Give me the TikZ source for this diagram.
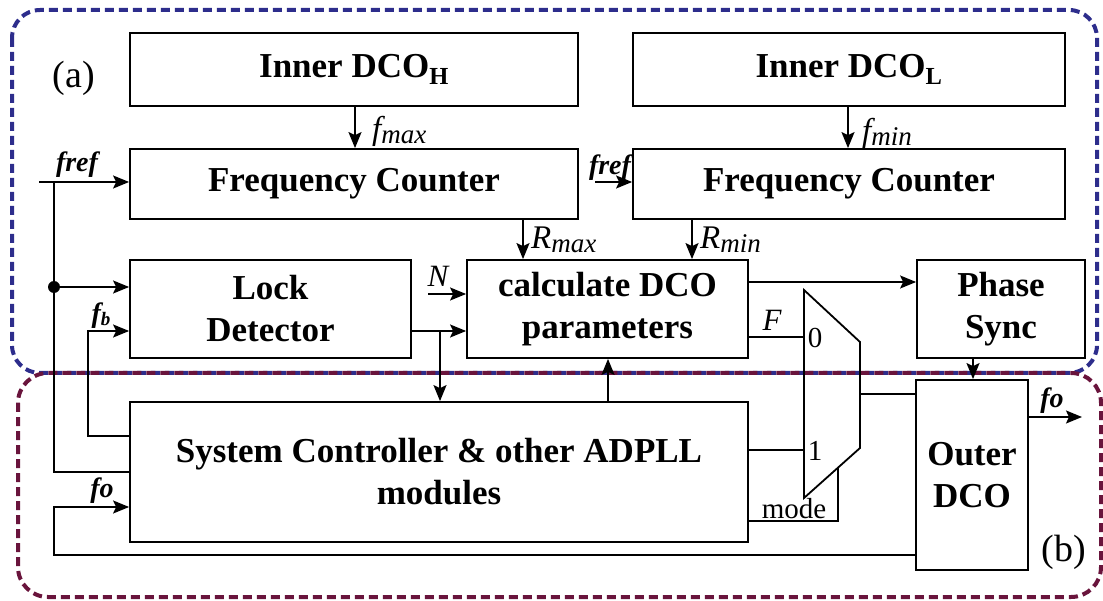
\documentclass[tikz,border=0pt]{standalone}
\usepackage{fontspec}
\setmainfont{Liberation Serif}
\usetikzlibrary{arrows.meta,calc}
\definecolor{bluedash}{RGB}{45,45,140}
\definecolor{reddash}{RGB}{105,20,60}
\begin{document}
\begin{tikzpicture}[x=1pt,y=-1pt,
  box/.style={draw, line width=1.8pt, inner sep=0pt, align=center,
    font=\bfseries\fontsize{35}{42}\selectfont},
  wire/.style={line width=1.6pt},
  arr/.style={wire, -{Stealth[length=16pt,width=13pt,inset=3pt]}},
  lab/.style={inner sep=0pt, font=\fontsize{33}{34}\selectfont},
  slab/.style={inner sep=0pt, font=\bfseries\itshape\fontsize{28}{28}\selectfont},
  mlab/.style={inner sep=0pt, font=\fontsize{29}{30}\selectfont},
  groupa/.style={draw=bluedash, line width=4pt, dash pattern=on 9pt off 5pt, rounded corners=28pt},
  groupb/.style={draw=reddash, line width=4pt, dash pattern=on 9pt off 5pt, rounded corners=30pt}]
\useasboundingbox (0,0) rectangle (1103,601);

% group frames
\draw[groupa] (12,10) rectangle (1097,373);
\draw[groupb] (18,373) rectangle (1101,597);
\node[lab, font=\fontsize{38}{40}\selectfont] (la) at (74,78) {(a)};
\node[lab, font=\fontsize{38}{40}\selectfont] (lb) at (1064,552) {(b)};

% blocks
\node[box, minimum width=448pt, minimum height=73pt] (dcoH) at (354,69.5) {Inner DCO\textsubscript{H}};
\node[box, minimum width=432pt, minimum height=73pt] (dcoL) at (849,69.5) {Inner DCO\textsubscript{L}};
\node[box, minimum width=448pt, minimum height=70pt] (fc1) at (354,184) {Frequency Counter};
\node[box, minimum width=432pt, minimum height=70pt] (fc2) at (849,184) {Frequency Counter};
\node[box, minimum width=281pt, minimum height=98pt] (lock) at (270.5,309) {Lock\\Detector};
\node[box, minimum width=281pt, minimum height=98pt] (calc) at (607.5,309) {calculate DCO\\parameters};
\node[box, minimum width=168pt, minimum height=98pt] (phase) at (1001,309) {Phase\\Sync};
\node[box, minimum width=112pt, minimum height=190pt] (outer) at (972,475) {Outer\\DCO};
\node[box, minimum width=618pt, minimum height=140pt] (sc) at (439,472) {System Controller \& other ADPLL\\modules};

% multiplexer
\coordinate (mA) at (804,290);
\coordinate (mB) at (860,342);
\coordinate (mC) at (860,448);
\coordinate (mD) at (804,498);
\draw[line width=1.8pt, line join=miter] (mA) -- (mB) -- (mC) -- (mD) -- cycle;
\coordinate (mux0) at (804,337);
\coordinate (mux1) at (804,450);
\coordinate (muxout) at (860,394);
\coordinate (muxsel) at (838,468);
\node[mlab] (l0) at (815,338) {0};
\node[mlab] (l1) at (815,451) {1};

% inner DCO -> counters
\draw[arr] (dcoH.south -| 355,0) -- (fc1.north -| 355,0);
\node[lab, anchor=west] (fmax) at (372,131) {\itshape f\fontsize{27}{27}\selectfont\raisebox{-4pt}{max}};
\draw[arr] (dcoL.south -| 848,0) -- (fc2.north -| 848,0);
\node[lab, anchor=west] (fmin) at (862,133) {\itshape f\fontsize{27}{27}\selectfont\raisebox{-4pt}{min}};

% counters -> calc
\draw[arr] (fc1.south -| 523,0) -- (calc.north -| 523,0);
\node[lab, anchor=west] (rmax) at (531,240) {\itshape R\fontsize{27}{27}\selectfont\raisebox{-4pt}{max}};
\draw[arr] (fc2.south -| 692,0) -- (calc.north -| 692,0);
\node[lab, anchor=west] (rmin) at (700,240) {\itshape R\fontsize{27}{27}\selectfont\raisebox{-4pt}{min}};

% fref into first counter, and trunk
\coordinate (fin) at (39,182);
\coordinate (tr) at (54,182);
\draw[arr] (fin) -- (fin -| fc1.west);
\node[slab] (fref1) at (77,165) {fref};
\node[circle, fill, inner sep=0pt, minimum size=12pt] (dot) at (54,287) {};
\draw[wire] (tr) -- (dot.center) -- (54,472) -- (sc.west |- 0,472);
\draw[arr] (dot.center) -- (lock.west |- dot);

% fref into second counter
\coordinate (fin2) at (595,182);
\draw[arr] (fin2) -- (fin2 -| fc2.west);
\node[slab] (fref2) at (610,168) {fref};

% fb feedback
\draw[arr] (sc.west |- 0,436) -- (88,436) -- (88,331) -- (lock.west |- 0,331);
\node[slab] (fb) at (101,316) {f\fontsize{19}{19}\selectfont\raisebox{-3pt}{b}};

% fo feedback
\draw[arr] (outer.west |- 0,555) -- (54,555) -- (54,507) -- (sc.west |- 0,507);
\node[slab] (fo1) at (102,491) {fo};

% lock -> calc and branch down
\draw[arr] (lock.east |- 0,331) -- (calc.west |- 0,331);
\draw[arr] (440,331) -- (sc.north -| 440,0);

% N input
\coordinate (nin) at (428,294);
\draw[arr] (nin) -- (calc.west |- nin);
\node[lab, font=\itshape\fontsize{31}{31}\selectfont] (nl) at (438,276) {N};

% SC -> calc
\draw[arr] (sc.north -| 608,0) -- (calc.south -| 608,0);

% calc -> phase sync
\draw[arr] (calc.east |- 0,282) -- (phase.west |- 0,282);

% F to mux 0
\draw[wire] (calc.east |- mux0) -- (mux0);
\node[lab, font=\itshape\fontsize{31}{31}\selectfont] (fl) at (772,320) {F};

% SC to mux 1
\draw[wire] (sc.east |- mux1) -- (mux1);

% mode select
\draw[wire] (sc.east |- 0,521) -- (838,521) -- (muxsel);
\node[mlab] (model) at (794,509) {mode};

% mux out to outer DCO
\draw[wire] (muxout) -- (outer.west |- muxout);

% phase sync -> outer
\draw[arr] (phase.south -| 973,0) -- (outer.north -| 973,0);

% output
\coordinate (fout) at (1082,417);
\draw[arr] (outer.east |- fout) -- (fout);
\node[slab] (fo2) at (1052,401) {fo};
\end{tikzpicture}
\end{document}
